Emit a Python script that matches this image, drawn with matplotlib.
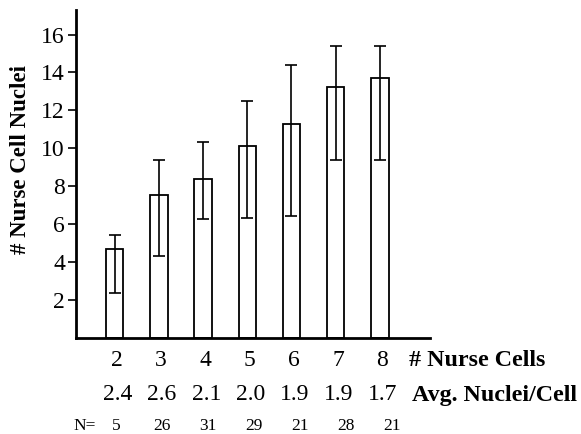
import matplotlib
matplotlib.use("Agg")
from matplotlib import pyplot as plt
from matplotlib.transforms import blended_transform_factory
import numpy as np

nurse_cells = ["2", "3", "4", "5", "6", "7", "8"]
mean_nuclei = [4.7, 7.55, 8.4, 10.1, 11.3, 13.25, 13.7]
err_low = [2.35, 4.3, 6.3, 6.35, 6.45, 9.4, 9.4]
err_high = [5.45, 9.4, 10.35, 12.5, 14.4, 15.4, 15.4]
avg_per_cell = ["2.4", "2.6", "2.1", "2.0", "1.9", "1.9", "1.7"]
n_counts = ["5", "26", "31", "29", "21", "28", "21"]

plt.rcParams['font.family'] = ['Liberation Serif', 'DejaVu Serif']

fig = plt.figure(figsize=(5.81, 4.34), dpi=100)
ax = fig.add_axes([0.1308, 0.2212, 0.609, 0.756])

x = np.arange(len(nurse_cells))
mean = np.array(mean_nuclei)
yerr = [mean - np.array(err_low), np.array(err_high) - mean]

ax.bar(x, mean, width=0.39, facecolor='white', edgecolor='black', linewidth=1.3, zorder=2)
ax.errorbar(x, mean, yerr=yerr, fmt='none', ecolor='black', elinewidth=1.2,
            capsize=4, capthick=1.2, zorder=3)

ax.set_xlim(-0.876, 7.13)
ax.set_ylim(0, 17.3)
ax.set_yticks([2, 4, 6, 8, 10, 12, 14, 16])
ax.set_xticks([])
ax.tick_params(axis='y', direction='out', length=6, width=1.2, labelsize=17, pad=2)

for side in ['top', 'right']:
    ax.spines[side].set_visible(False)
ax.spines['left'].set_linewidth(2)
ax.spines['bottom'].set_linewidth(2)

fig.text(21 / 581, 1 - 160 / 434, "# Nurse Cell Nuclei", rotation=90,
         ha='center', va='center', fontsize=16.5, fontweight='bold')

trans = blended_transform_factory(ax.transData, fig.transFigure)
row1_y = 1 - 360 / 434
row2_y = 1 - 395 / 434
row3_y = 1 - 426 / 434
for i in range(len(nurse_cells)):
    ax.text(x[i] + 0.05, row1_y, nurse_cells[i], transform=trans, ha='center', va='center', fontsize=17)
    ax.text(x[i] + 0.07, row2_y, avg_per_cell[i], transform=trans, ha='center', va='center', fontsize=17)
    ax.text(x[i] + 0.03 + 0.04 * i, row3_y, n_counts[i], transform=trans, ha='center', va='center', fontsize=12.5)

fig.text(409 / 581, row1_y, "# Nurse Cells", ha='left', va='center', fontsize=17.3, fontweight='bold')
fig.text(412 / 581, row2_y, "Avg. Nuclei/Cell", ha='left', va='center', fontsize=17.3, fontweight='bold')
fig.text(73 / 581, row3_y, "N=", ha='left', va='center', fontsize=12.5)

fig.savefig("out.png", dpi=100)
